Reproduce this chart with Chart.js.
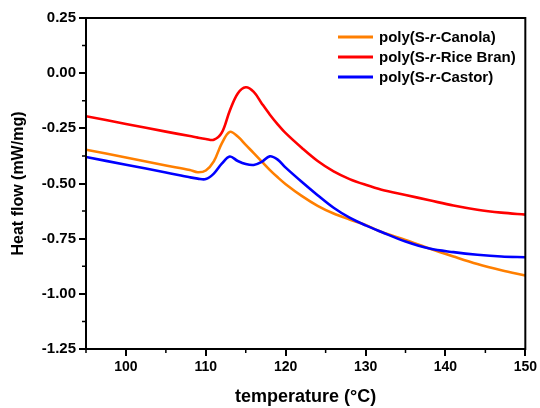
<!DOCTYPE html>
<html><head><meta charset="utf-8">
<script src="https://cdn.jsdelivr.net/npm/chart.js@4"></script>
<style>html,body{margin:0;padding:0;background:#fff}#wrap{width:540px;height:408px}</style>
</head><body><div id="wrap"><canvas id="c" width="540" height="408"></canvas></div>
<script>
const temperature = [95,100,105,108,109,110,111,112,113,114,115,116,117,118,119,120,122,124,126,128,130,132,135,138,141,144,147,150];
const canola   = [-0.347,-0.382,-0.418,-0.439,-0.449,-0.441,-0.400,-0.318,-0.266,-0.287,-0.325,-0.362,-0.400,-0.438,-0.472,-0.503,-0.556,-0.601,-0.636,-0.663,-0.688,-0.720,-0.756,-0.795,-0.831,-0.865,-0.893,-0.917];
const riceBran = [-0.195,-0.230,-0.265,-0.285,-0.292,-0.298,-0.302,-0.270,-0.170,-0.092,-0.064,-0.085,-0.137,-0.187,-0.232,-0.272,-0.338,-0.398,-0.445,-0.480,-0.506,-0.528,-0.552,-0.576,-0.600,-0.619,-0.632,-0.641];
const castor   = [-0.380,-0.415,-0.450,-0.472,-0.478,-0.480,-0.455,-0.410,-0.378,-0.398,-0.412,-0.416,-0.402,-0.377,-0.392,-0.428,-0.492,-0.553,-0.610,-0.655,-0.690,-0.720,-0.763,-0.795,-0.811,-0.823,-0.831,-0.834];
const xTickValues = [100,110,120,130,140,150];
const xMinorTicks = [95,105,115,125,135,145];
const yTickValues = [-1.25,-1.00,-0.75,-0.50,-0.25,0.00,0.25];
const yMinorTicks = [-1.125,-0.875,-0.625,-0.375,-0.125,0.125];
const seriesLabels = [["poly(S-","r","-Canola)"],["poly(S-","r","-Rice Bran)"],["poly(S-","r","-Castor)"]];
const seriesColors = ['#FF7F00','#FF0000','#0000FF'];
const seriesData = [canola, riceBran, castor];
const FONT = "'Liberation Sans', Arial, sans-serif";

const framePlugin = {
  id: 'frame',
  afterDraw(chart) {
    const {ctx, chartArea: a, scales: {x, y}} = chart;
    ctx.save();
    ctx.strokeStyle = '#000';
    ctx.lineWidth = 2;
    ctx.strokeRect(a.left, a.top, a.right - a.left, a.bottom - a.top);
    ctx.lineWidth = 1.5;
    ctx.beginPath();
    xMinorTicks.forEach(v => { const px = x.getPixelForValue(v); ctx.moveTo(px, a.bottom); ctx.lineTo(px, a.bottom + 4); });
    yMinorTicks.forEach(v => { const py = y.getPixelForValue(v); ctx.moveTo(a.left - 4, py); ctx.lineTo(a.left, py); });
    ctx.stroke();
    const rows = [37, 57, 77];
    ctx.textBaseline = 'middle';
    seriesLabels.forEach((parts, i) => {
      const yy = rows[i];
      ctx.strokeStyle = seriesColors[i];
      ctx.lineWidth = 3;
      ctx.beginPath(); ctx.moveTo(338, yy); ctx.lineTo(373, yy); ctx.stroke();
      let tx = 379;
      ctx.fillStyle = '#000';
      parts.forEach((p, j) => {
        ctx.font = (j === 1 ? 'italic ' : '') + 'bold 15px ' + FONT;
        ctx.fillText(p, tx, yy + 1);
        tx += ctx.measureText(p).width;
      });
    });
    ctx.restore();
  }
};

new Chart(document.getElementById('c'), {
  type: 'line',
  data: {
    datasets: seriesData.map((d, i) => ({
      label: seriesLabels[i].join(''),
      data: temperature.map((t, k) => ({x: t, y: d[k]})),
      borderColor: seriesColors[i],
      backgroundColor: seriesColors[i],
      borderWidth: 2.6,
      pointRadius: 0,
      fill: false,
      tension: 0.35,
      order: [2, 1, 0][i]
    }))
  },
  options: {
    responsive: false,
    devicePixelRatio: 1,
    animation: false,
    layout: {padding: {top: 18, right: 13, left: 0, bottom: 0}},
    plugins: {legend: {display: false}, tooltip: {enabled: false}},
    scales: {
      x: {
        type: 'linear', min: 95, max: 150,
        afterBuildTicks: s => { s.ticks = xTickValues.map(v => ({value: v})); },
        afterFit: s => { s.height = 59; },
        border: {display: false},
        grid: {drawOnChartArea: false, drawTicks: true, tickLength: 7, color: '#000', lineWidth: 2},
        ticks: {color: '#000', font: {family: FONT, size: 14, weight: 'bold'}, padding: 3, maxRotation: 0, callback: v => String(v)},
        title: {display: true, text: 'temperature (°C)', color: '#000', font: {family: FONT, size: 18, weight: 'bold'}, padding: {top: 0, bottom: 0}}
      },
      y: {
        type: 'linear', min: -1.25, max: 0.25,
        afterBuildTicks: s => { s.ticks = yTickValues.map(v => ({value: v})); },
        afterFit: s => { s.width = 86; },
        border: {display: false},
        grid: {drawOnChartArea: false, drawTicks: true, tickLength: 7, color: '#000', lineWidth: 2},
        ticks: {color: '#000', font: {family: FONT, size: 15, weight: 'bold'}, padding: 3, callback: v => Number(v).toFixed(2)},
        title: {display: true, text: 'Heat flow (mW/mg)', color: '#000', font: {family: FONT, size: 16, weight: 'bold'}, padding: {top: 9, bottom: 0}}
      }
    }
  },
  plugins: [framePlugin]
});
</script></body></html>
